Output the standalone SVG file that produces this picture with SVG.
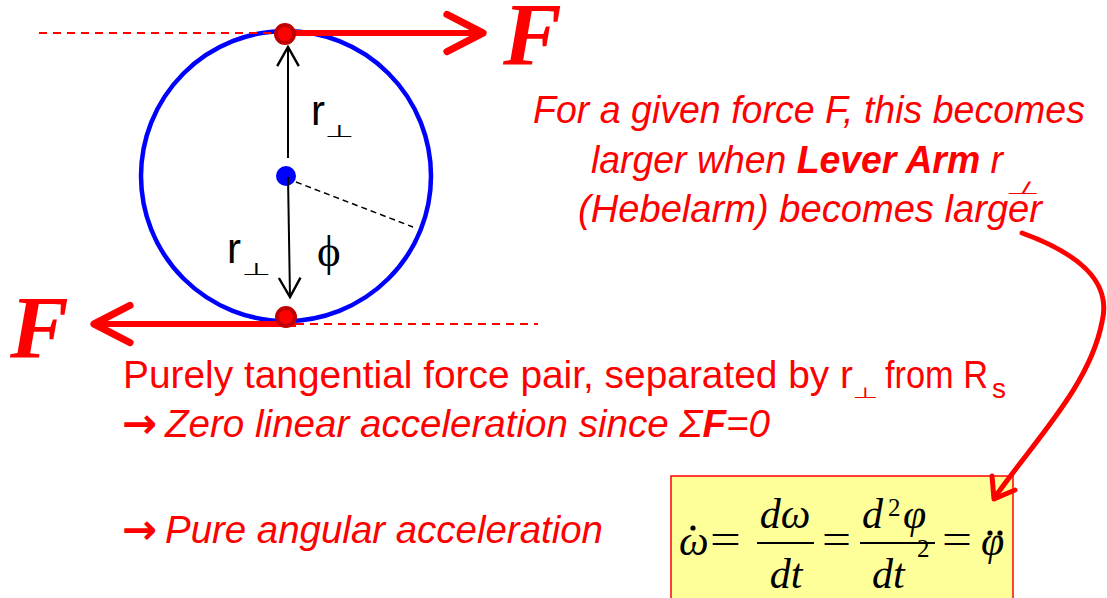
<svg xmlns="http://www.w3.org/2000/svg" width="1107" height="598" viewBox="0 0 1107 598">
<style>
.sans{font-family:"Liberation Sans",Arial,sans-serif;fill:#ff0000}
.it{font-style:italic}
.bd{font-weight:bold}
.blk{font-family:"Liberation Sans",Arial,sans-serif;fill:#000}
.perp{font-family:"DejaVu Sans",sans-serif}
.arr{font-family:"DejaVu Sans",sans-serif;font-weight:bold;fill:#ff0000;font-size:42px}
.eq{font-family:"Liberation Serif","Times New Roman",serif;font-style:italic;fill:#000;font-size:42px}
.eqr{font-family:"Liberation Serif","Times New Roman",serif;fill:#000;font-size:42px}
.sup{font-family:"Liberation Serif","Times New Roman",serif;fill:#000;font-size:25px}
.bigF{font-family:"Liberation Serif","Times New Roman",serif;font-style:italic;font-weight:bold;font-size:88px;fill:#ff0000}
</style>
<defs>
<marker id="redHead" markerUnits="userSpaceOnUse" markerWidth="60" markerHeight="60" viewBox="-40 -25 50 50" refX="0" refY="0" orient="auto" overflow="visible">
<path d="M-30,-15.5 L0,0 L-30,15.5" fill="none" stroke="#ff0000" stroke-width="6" stroke-linecap="round" stroke-linejoin="round"/>
</marker>
<marker id="blkHead" markerUnits="userSpaceOnUse" markerWidth="30" markerHeight="30" viewBox="-20 -12 25 24" refX="0" refY="0" orient="auto" overflow="visible">
<path d="M-16,-9 L0,0 L-16,9" fill="none" stroke="#000" stroke-width="2"/>
</marker>
</defs>

<g id="wheel">
<circle cx="286" cy="176" r="145" fill="none" stroke="#0000ff" stroke-width="4.5"/>
<circle cx="286" cy="176" r="10" fill="#0000ff"/>
</g>

<g id="equationBox">
<rect x="671" y="476" width="342" height="130" fill="#ffff99" stroke="#ff0000" stroke-width="1.5"/>
<text class="eq" x="679" y="555">ω</text>
<circle cx="693" cy="528" r="2.6" fill="#000"/>
<text class="eqr" x="710" y="553" textLength="31" lengthAdjust="spacingAndGlyphs">=</text>
<text class="eq" x="785" y="528" text-anchor="middle">dω</text>
<line x1="757" y1="543" x2="814" y2="543" stroke="#000" stroke-width="2"/>
<text class="eq" x="786" y="588" text-anchor="middle">dt</text>
<text class="eqr" x="822" y="553" textLength="29" lengthAdjust="spacingAndGlyphs">=</text>
<text class="eq" x="862" y="528">d</text>
<text class="sup" x="888" y="516">2</text>
<text class="eq" x="903" y="528">φ</text>
<line x1="860" y1="543" x2="935" y2="543" stroke="#000" stroke-width="2"/>
<text class="eq" x="872" y="588">dt</text>
<text class="sup" x="917" y="557">2</text>
<text class="eqr" x="942" y="553" textLength="30" lengthAdjust="spacingAndGlyphs">=</text>
<text class="eq" x="981" y="555">φ</text>
<circle cx="990" cy="533" r="2.6" fill="#000"/>
<circle cx="1000" cy="533" r="2.6" fill="#000"/>
</g>

<g id="connectors">
<line x1="39" y1="33" x2="276" y2="33" stroke="#ff0000" stroke-width="2" stroke-dasharray="8,6"/>
<line x1="296" y1="324" x2="538" y2="324" stroke="#ff0000" stroke-width="2" stroke-dasharray="8,6"/>
<line x1="285" y1="33" x2="483" y2="33" stroke="#ff0000" stroke-width="6" marker-end="url(#redHead)"/>
<line x1="296" y1="324" x2="94" y2="324" stroke="#ff0000" stroke-width="6" marker-end="url(#redHead)"/>
<line x1="288" y1="158" x2="288" y2="47" stroke="#000" stroke-width="2" marker-end="url(#blkHead)"/>
<line x1="288" y1="177" x2="290" y2="297" stroke="#000" stroke-width="2" marker-end="url(#blkHead)"/>
<line x1="296" y1="182" x2="413" y2="227" stroke="#000" stroke-width="1.5" stroke-dasharray="6,4"/>
<path d="M1022,233 C1080,254 1112,282 1102,322 C1090,385 1035,440 995,497" fill="none" stroke="#ff0000" stroke-width="5" stroke-linecap="round"/>
<path d="M992,476 L994,499 L1015,490" fill="none" stroke="#ff0000" stroke-width="5" stroke-linecap="round" stroke-linejoin="round"/>
</g>

<g id="forcePointTop">
<circle cx="285" cy="34" r="9" fill="#ff0000" stroke="#c00000" stroke-width="4"/>
</g>
<g id="forcePointBottom">
<circle cx="286" cy="317" r="9" fill="#ff0000" stroke="#c00000" stroke-width="4"/>
</g>

<g id="labelFTop"><text class="bigF" x="503" y="64">F</text></g>
<g id="labelFBottom"><text class="bigF" x="10" y="357">F</text></g>

<g id="labelRUpper">
<text class="blk" x="311" y="125" font-size="42">r</text>
<text class="blk perp" transform="translate(325,137) scale(1,0.5)" font-size="34">⊥</text>
</g>
<g id="labelRLower">
<text class="blk" x="227" y="263" font-size="42">r</text>
<text class="blk perp" transform="translate(242,275) scale(1,0.5)" font-size="34">⊥</text>
</g>
<g id="labelPhi">
<text x="317" y="266" font-family="'Liberation Serif','DejaVu Serif',serif" font-size="45" fill="#000">ϕ</text>
</g>

<g id="noteLeverArm">
<text class="sans it" x="533" y="123" font-size="38" textLength="552" lengthAdjust="spacingAndGlyphs">For a given force F, this becomes</text>
<text class="sans it" x="591" y="173" font-size="38" textLength="412" lengthAdjust="spacingAndGlyphs">larger when <tspan class="bd">Lever Arm</tspan> r</text>
<text class="sans perp" transform="translate(1005,194) scale(1,0.45) skewX(-15)" font-size="40">⊥</text>
<text class="sans it" x="578" y="222" font-size="38" textLength="464" lengthAdjust="spacingAndGlyphs">(Hebelarm) becomes larger</text>
</g>

<g id="noteForcePair">
<text class="sans" x="123" y="388" font-size="38" textLength="730" lengthAdjust="spacingAndGlyphs">Purely tangential force pair, separated by r</text>
<text class="sans perp" transform="translate(852,398) scale(1,0.5)" font-size="30">⊥</text>
<text class="sans" x="885" y="388" font-size="38" textLength="103" lengthAdjust="spacingAndGlyphs">from R</text>
<text class="sans" x="992" y="398" font-size="28">s</text>
<text class="arr" x="122" y="438">→</text>
<text class="sans it" x="165" y="437" font-size="38" textLength="605" lengthAdjust="spacingAndGlyphs">Zero linear acceleration since Σ<tspan class="bd">F</tspan>=0</text>
<text class="arr" x="122" y="544">→</text>
<text class="sans it" x="165" y="543" font-size="38" textLength="438" lengthAdjust="spacingAndGlyphs">Pure angular acceleration</text>
</g>
</svg>
